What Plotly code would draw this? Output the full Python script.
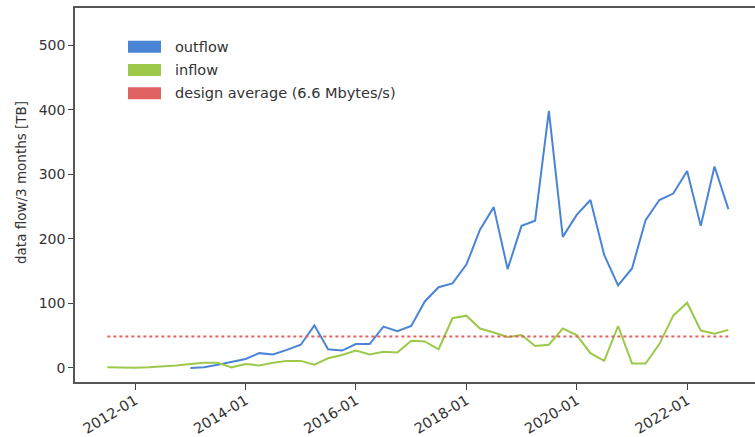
import plotly.graph_objects as go

# ---------------- data ----------------
quarters = [
    "2011-07-01", "2011-10-01",
    "2012-01-01", "2012-04-01", "2012-07-01", "2012-10-01",
    "2013-01-01", "2013-04-01", "2013-07-01", "2013-10-01",
    "2014-01-01", "2014-04-01", "2014-07-01", "2014-10-01",
    "2015-01-01", "2015-04-01", "2015-07-01", "2015-10-01",
    "2016-01-01", "2016-04-01", "2016-07-01", "2016-10-01",
    "2017-01-01", "2017-04-01", "2017-07-01", "2017-10-01",
    "2018-01-01", "2018-04-01", "2018-07-01", "2018-10-01",
    "2019-01-01", "2019-04-01", "2019-07-01", "2019-10-01",
    "2020-01-01", "2020-04-01", "2020-07-01", "2020-10-01",
    "2021-01-01", "2021-04-01", "2021-07-01", "2021-10-01",
    "2022-01-01", "2022-04-01", "2022-07-01", "2022-10-01",
]

inflow_tb = [
    1, 0.5,
    0.5, 1, 2, 4,
    6, 8, 8, 1,
    6, 4, 8, 11,
    11, 5, 15, 20,
    27, 21, 25, 24,
    42, 41, 29, 77,
    81, 61, 55, 48,
    51, 34, 36, 61,
    51, 23, 11, 65,
    7, 7, 37, 81,
    101, 58, 53, 59,
]

outflow_quarters = quarters[6:]
outflow_tb = [
    0, 1, 5, 10,
    14, 23, 21, 28,
    36, 66, 29, 27,
    37, 37, 64, 57,
    65, 103, 125, 131,
    160, 214, 249, 153,
    220, 228, 398, 203,
    237, 260, 175, 128,
    154, 229, 260, 270,
    305, 220, 312, 246,
]

design_average_tb = 48.9   # 6.6 Mbytes/s over 3 months
design_x = [quarters[0], quarters[-1]]

series_names = ["outflow", "inflow", "design average (6.6 Mbytes/s)"]
series_colors = ["#4a84d6", "#9cc94a", "#e06262"]

x_tick_vals = ["2012-01-01", "2014-01-01", "2016-01-01", "2018-01-01",
               "2020-01-01", "2022-01-01"]
y_tick_vals = [0, 100, 200, 300, 400, 500]

# ---------------- figure ----------------
fig = go.Figure()

fig.add_trace(go.Scatter(
    x=outflow_quarters, y=outflow_tb, mode="lines", name=series_names[0],
    line=dict(color=series_colors[0], width=2), showlegend=False))
fig.add_trace(go.Scatter(
    x=quarters, y=inflow_tb, mode="lines", name=series_names[1],
    line=dict(color=series_colors[1], width=2), showlegend=False))
fig.add_trace(go.Scatter(
    x=design_x, y=[design_average_tb, design_average_tb], mode="lines",
    name=series_names[2],
    line=dict(color=series_colors[2], width=2, dash="dot"), showlegend=False))

# manual legend with rectangle patches (matplotlib style)
W, H = 755, 437
L, R, T, B = 75, 0, 8, 55
pw, ph = W - L - R, H - T - B


def px_x(px):
    return (px - L) / pw


def px_y(py):
    return (H - B - py) / ph


legend_centers = [46.7, 70.0, 93.3]
shapes = []
annotations = []
for name, col, cy in zip(series_names, series_colors, legend_centers):
    shapes.append(dict(type="rect", xref="paper", yref="paper",
                       x0=px_x(128), x1=px_x(161),
                       y0=px_y(cy + 6), y1=px_y(cy - 6),
                       fillcolor=col, line=dict(width=0)))
    annotations.append(dict(xref="paper", yref="paper", x=px_x(173), y=px_y(cy),
                            xanchor="left", yanchor="middle", showarrow=False,
                            text=name,
                            font=dict(family="DejaVu Sans", size=14.5,
                                      color="#333333")))

annotations.append(dict(xref="paper", yref="paper", x=px_x(21), y=px_y(183),
                        xanchor="center", yanchor="middle", showarrow=False,
                        textangle=-90, text="data flow/3 months [TB]",
                        font=dict(family="DejaVu Sans", size=13.5,
                                  color="#333333")))

fig.update_layout(
    width=W, height=H,
    margin=dict(l=L, r=R, t=T, b=B, pad=0, autoexpand=False),
    paper_bgcolor="white", plot_bgcolor="white",
    font=dict(family="DejaVu Sans", size=14, color="#333333"),
    shapes=shapes, annotations=annotations,
    showlegend=False,
)

fig.update_xaxes(
    type="date", range=["2010-11-29", "2023-03-26"], automargin=False,
    tickvals=x_tick_vals, tickformat="%Y-%m", tickangle=-31,
    ticks="outside", ticklen=6, tickwidth=1.3, tickcolor="#444444",
    ticklabelstandoff=-3,
    showline=True, linecolor="#555555", linewidth=1.5, mirror=True,
    showgrid=False, zeroline=False,
    tickfont=dict(family="DejaVu Sans", size=14.5, color="#333333"),
)
fig.update_yaxes(
    range=[-21.7, 557.3], tickvals=y_tick_vals, automargin=False,
    ticks="outside", ticklen=5, tickwidth=1.3, tickcolor="#444444",
    showline=True, linecolor="#555555", linewidth=1.5, mirror=False,
    showgrid=False, zeroline=False,
    tickfont=dict(family="DejaVu Sans", size=14, color="#333333"),
)

fig.write_html("out.html")
